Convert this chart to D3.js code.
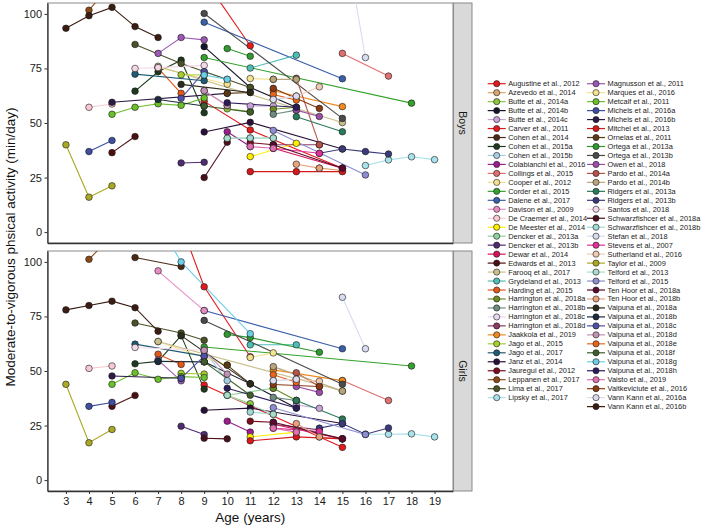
<!DOCTYPE html>
<html><head><meta charset="utf-8">
<script src="https://cdn.jsdelivr.net/npm/d3@7"></script>
<style>body{margin:0;background:#fff}svg{display:block;font-family:"Liberation Sans",Arial,sans-serif}</style>
</head><body><svg id="c" width="709" height="529"></svg>
<script>
const studies = ["Augustine et al., 2012","Azevedo et al.,  2014","Butte et al., 2014a","Butte et al., 2014b","Butte et al., 2014c","Carver et al., 2011","Cohen et al., 2014","Cohen et al., 2015a","Cohen et al., 2015b","Colabianchi et al., 2016","Collings et al., 2015","Cooper et al., 2012","Corder et al., 2015","Dalene et al., 2017","Davison et al., 2009","De Craemer et al., 2014","De Meester et al., 2014","Dencker et al., 2013a","Dencker et al., 2013b","Dewar et al., 2014","Edwards et al., 2013","Farooq et al., 2017","Grydeland et al., 2013","Harding et al., 2015","Harrington et al., 2018a","Harrington et al., 2018b","Harrington et al., 2018c","Harrington et al., 2018d","Jaakkola et al., 2019","Jago et al., 2015","Jago et al., 2017","Janz et al., 2014","Jauregui et al., 2012","Leppanen et al., 2017","Lima et al., 2017","Lipsky et al., 2017",
"Magnusson et al., 2011","Marques et al., 2016","Metcalf et al., 2011","Michels et al., 2016a","Michels et al., 2016b","Mitchel et al., 2013","Ornelas et al., 2011","Ortega et al., 2013a","Ortega et al., 2013b","Owen et al., 2018","Pardo et al., 2014a","Pardo et al., 2014b","Ridgers et al., 2013a","Ridgers et al., 2013b","Santos et al., 2018","Schwarzfishcer et al., 2018a","Schwarzfishcer et al., 2018b","Stefan et al., 2018","Stevens et al., 2007","Sutherland et al., 2016","Taylor et al., 2009","Telford et al., 2013","Telford et al., 2015","Ten Hoor et al., 2018a","Ten Hoor et al., 2018b","Vaipuna et al., 2018a","Vaipuna et al., 2018b","Vaipuna et al., 2018c","Vaipuna et al., 2018d","Vaipuna et al., 2018e","Vaipuna et al., 2018f","Vaipuna et al., 2018g","Vaipuna et al., 2018h","Vaisto et al., 2019","Vaitkeviciute  et al., 2016","Vann Kann et al., 2016a","Vann Kann et al., 2016b"];

const palette = ["#e41a1c","#d9a56f","#8cc63f","#15152b","#c8a2d8","#e31a1c","#4a2a16","#1e3a1e","#a6cee3","#9b1d8e","#e07070","#f5e08b","#34a12d","#3a5faa","#e88cc4","#f9c9d3","#ffee00","#8fd19b","#4d2c70","#d4145a","#4c1012","#c9c08c","#4dbfb4","#e2581b","#6b8b23","#6f8c80","#e8d8f0","#8b3a62","#f08a1f","#a4cf2d","#1f5c74","#2a1038","#7a0c1e","#8b4b16","#4b5226","#a8e2ea",
"#9b58b5","#f3e38e","#6abf2a","#3f4fa0","#2d1b45","#d7191c","#5a3a14","#2f9a2f","#4b4b4b","#9b4fa8","#b5554a","#b9a57a","#2a7a5c","#3b3b7c","#f5d8e6","#4a0f1c","#a0dad2","#d7dcf0","#e0339a","#f2cab2","#aaa824","#a9dccb","#8d8dd2","#5a0a2a","#e9a27c","#2b2b1b","#1c2c3c","#5050a8","#c193b3","#e8661a","#3f5f2a","#6ccfe6","#2b1b5a","#e070b0","#8b3b12","#dcdcee","#3b1c12"];

const boys = [
[[9,59.9],[11,46.8],[15,29.3]],
[[14,29.3],[15,28.2]],
[[10,56.5],[11,55.2]],
[[9,85],[11,66.3],[13,57.2]],
[[11,57.8],[12,57.8]],
[[9,116],[11,85.4]],
[[6,121],[8,116]],
[[6,64.6],[7,73.5],[8,78.8],[9,54.7]],
[[9,73.5],[10,70]],
[[10,46],[11,39.2]],
[[15,81.9],[17,71.5]],
[[7,75.5],[10,67.8]],
[[9,80],[18,59.1]],
[[9,96.2],[15,70.3]],
[[9,64.8],[10,58]],
[[4,57.2],[5,58.7]],
[[11,34.6],[13,40.7]],
[[10,43],[11,43.1]],
[[8,31.7],[9,32]],
[[12,38.4],[15,29.3]],
[[5,36.4],[6,43.8]],
[[7,76],[15,50.2]],
[[11,75.2],[13,81.1]],
[[7,75.2],[8,63.6]],
[[12,56.3],[13,57.2]],
[[12,54],[13,55.9]],
[[12,60.8],[13,62.3]],
[[12,40],[14,40]],
[[12,64.8],[15,57.5]],
[[8,72.1],[9,72]],
[[6,72.4],[9,69.4]],
[[9,45.9],[11,50.3],[15,38.1]],
[[11,41],[12,40]],
[[4,101.7],[5,114]],
[[6,86],[8,77.3],[11,66.3]],
[[16,30.5],[17,33.1],[18,34.5],[19,33.2]],
[[7,81.9],[8,89.2],[9,88.1]],
[[11,70.4],[12,70]],
[[5,54],[6,57.2],[7,58.8],[8,58.1],[9,61.5]],
[[4,36.9],[5,42]],
[[5,59.5],[10,63.6]],
[[11,27.7],[13,27.7],[15,27.7]],
[[10,63.6],[11,64]],
[[10,84.1],[11,80.6]],
[[9,100.2],[15,52.1]],
[[13,55.9],[14,53]],
[[13,70.5],[14,40]],
[[12,70],[13,70]],
[[13,52.9],[15,46]],
[[14,36.1],[15,38.1],[16,36.9],[17,35.8]],
[[6,75],[7,75.4],[9,76.4]],
[[9,25],[10,41.2]],
[[11,43.1],[12,43.1]],
[[15,141],[16,80]],
[[12,38.4],[14,36.1]],
[[13,62.3],[14,66.6]],
[[3,40],[4,16],[5,21.2]],
[[10,43],[12,43.1]],
[[12,46.6],[16,26.2]],
[[12,40],[15,29.3]],
[[13,31.1],[14,29.3]],
[[8,67.7],[11,64]],
[[7,60.8],[9,57.8]],
[[8,61.3],[9,73.5]],
[[9,64.8],[10,58]],
[[12,63.1],[13,60.5]],
[[9,57.8],[11,55]],
[[9,72],[10,70]],
[[10,59.3],[13,57.2]],
[[11,39.2],[12,38.4]],
[[12,65.9],[14,56.7]],
[[12,60.8],[13,62.3]],
[[3,93.4],[4,99.2],[5,103],[6,94.2],[7,89.2]]
];

const girls = [
[[9,43.6],[15,15]],
[[14,19.8],[15,18.9]],
[[10,38.9],[11,35]],
[[9,54.2],[11,44.1],[13,33]],
[[13,34.4],[14,32.9]],
[[8,117],[9,88.6],[11,56.5]],
[[6,102],[8,97.9]],
[[6,53.3],[7,54.4],[8,66.2],[9,41.7]],
[[9,59.2],[10,45.6]],
[[10,27],[11,22]],
[[15,45.6],[17,36.5]],
[[7,63.5],[10,52.7]],
[[9,61],[18,52.3]],
[[9,77.7],[15,60.2]],
[[7,95.9],[9,77.7]],
[[4,51.2],[5,52.3]],
[[11,19.8],[13,22]],
[[10,38.9],[12,42.1]],
[[8,24.7],[9,20.9]],
[[12,25.6],[15,18.9]],
[[5,33.8],[6,38.8]],
[[7,63.5],[15,40.8]],
[[11,62],[13,62]],
[[7,57.7],[8,53]],
[[12,42.1],[13,36.5]],
[[12,37.9],[13,36.5]],
[[12,45.6],[13,46.2]],
[[12,25.6],[14,23]],
[[12,50.5],[15,45.6]],
[[8,48.9],[9,48.6]],
[[6,62.3],[9,56.8]],
[[9,32],[11,33],[15,25.9]],
[[11,27],[12,26.5]],
[[4,101.2],[5,112]],
[[6,72],[8,67.4],[9,64.1]],
[[16,21],[17,21],[18,21.2],[19,19.8]],
[[7,55],[8,45.5]],
[[11,56.2],[12,58.3]],
[[5,43.9],[6,49.2],[7,46.2],[8,47.4],[9,47]],
[[4,33.8],[5,35.6]],
[[5,47.7],[8,46.7]],
[[11,18],[13,19.8],[15,18.9]],
[[10,52.7],[11,44.1]],
[[10,66.8],[11,65.3],[14,58.6]],
[[9,73.2],[15,43.9]],
[[13,42.9],[14,40.2]],
[[13,49.2],[14,42.9]],
[[12,52],[15,40.8]],
[[13,36.5],[15,28]],
[[14,23.8],[15,25.9],[16,21],[17,23.9]],
[[6,60.8],[9,59.5]],
[[9,19.2],[10,18.9]],
[[11,31.2],[12,30.2]],
[[15,83.8],[16,60.2]],
[[12,23.8],[14,22.3]],
[[13,46.2],[14,45.3]],
[[3,43.9],[4,17.1],[5,23.2]],
[[10,38.9],[12,30.2]],
[[12,33.2],[16,20.9]],
[[12,26.5],[15,18.9]],
[[13,25.9],[14,19.8]],
[[8,66.2],[11,44.1]],
[[7,54.4],[9,54.2]],
[[8,46.7],[9,56.8]],
[[9,59.5],[10,48.6]],
[[12,48.3],[13,44.8]],
[[9,54.2],[11,38.9]],
[[7,118],[8,100],[11,67.1]],
[[10,42.1],[13,33]],
[[12,23.8],[13,22]],
[[12,43.8],[14,42.9]],
[[12,45.6],[13,46.2]],
[[3,78],[4,80],[5,82],[6,79],[7,68.2]]
];

const xTicks = [3,4,5,6,7,8,9,10,11,12,13,14,15,16,17,18,19];
const yTicks = [0,25,50,75,100];
const facets = ["Boys","Girls"];
const panelData = [boys, girls];

const svg = d3.select("#c");
svg.append("rect").attr("width",709).attr("height",529).attr("fill","#fff");

const L = 47.5, R = 453, PH = 240, tops = [3, 251];
const x = d3.scaleLinear().domain([2.2, 19.8]).range([L, R]);

facets.forEach((f, pi) => {
  const top = tops[pi];
  const y = d3.scaleLinear().domain([-5, 105]).range([top + PH, top]);
  const g = svg.append("g");
  const cid = "clip" + pi;
  svg.append("clipPath").attr("id", cid).append("rect")
    .attr("x", L).attr("y", top).attr("width", R - L).attr("height", PH);
  g.append("rect").attr("x", L).attr("y", top).attr("width", R - L).attr("height", PH)
    .attr("fill", "#fff").attr("stroke", "#8a8a8a").attr("stroke-width", 1);
  const plot = g.append("g").attr("clip-path", `url(#${cid})`);
  const line = d3.line().x(d => x(d[0])).y(d => y(d[1]));
  const data = panelData[pi];
  data.forEach((s, i) => {
    if (s.length > 1) plot.append("path").attr("d", line(s)).attr("fill", "none")
      .attr("stroke", palette[i]).attr("stroke-width", 1.1);
  });
  data.forEach((s, i) => {
    plot.selectAll(null).data(s).enter().append("circle")
      .attr("cx", d => x(d[0])).attr("cy", d => y(d[1])).attr("r", 3.3)
      .attr("fill", palette[i]).attr("stroke", "#1a1a1a").attr("stroke-width", 0.6);
  });
  const ya = g.append("g").attr("transform", `translate(${L},0)`)
    .call(d3.axisLeft(y).tickValues(yTicks).tickSize(3).tickSizeOuter(0).tickPadding(2.5));
  ya.select(".domain").attr("stroke", "#333").attr("stroke-width", 1.3);
  ya.selectAll(".tick line").attr("stroke", "#333");
  ya.selectAll("text").attr("font-size", 11).attr("fill", "#1a1a1a").attr("font-family", "Liberation Sans, Arial, sans-serif");
  const xa = g.append("g").attr("transform", `translate(0,${top + PH})`)
    .call(d3.axisBottom(x).tickValues(xTicks).tickSize(pi === 1 ? 3 : 0).tickSizeOuter(0).tickPadding(3));
  xa.select(".domain").attr("stroke", "#333").attr("stroke-width", 1.3);
  xa.selectAll(".tick line").attr("stroke", "#333");
  xa.selectAll("text").attr("font-size", 11).attr("fill", "#1a1a1a").attr("font-family", "Liberation Sans, Arial, sans-serif");
  if (pi === 0) xa.selectAll("text").remove();
  g.append("rect").attr("x", R + 0.5).attr("y", top).attr("width", 18.5).attr("height", PH)
    .attr("fill", "#d9d9d9").attr("stroke", "#8a8a8a").attr("stroke-width", 1);
  g.append("text").attr("transform", `translate(${R + 9.75},${top + PH / 2}) rotate(90)`)
    .attr("text-anchor", "middle").attr("dominant-baseline", "central")
    .attr("font-size", 10.5).attr("fill", "#1a1a1a").text(f);
});

svg.append("text").attr("x", (L + R) / 2).attr("y", 522).attr("text-anchor", "middle")
  .attr("font-size", 13.5).attr("fill", "#111").text("Age (years)");
svg.append("text").attr("transform", `translate(15,${(tops[0] + tops[1] + PH) / 2}) rotate(-90)`)
  .attr("text-anchor", "middle").attr("font-size", 13.5).attr("fill", "#111")
  .text("Moderate-to-vigorous phsical activity (min/day)");

const leg = svg.append("g");
const perCol = 36;
studies.forEach((name, i) => {
  const col = i < perCol ? 0 : 1;
  const row = col === 0 ? i : i - perCol;
  const cx = col === 0 ? 496.7 : 596;
  const cy = 83.7 + row * 8.97;
  const it = leg.append("g");
  it.append("line").attr("x1", cx - 9).attr("x2", cx + 9).attr("y1", cy).attr("y2", cy)
    .attr("stroke", palette[i]).attr("stroke-width", 1.2);
  it.append("circle").attr("cx", cx).attr("cy", cy).attr("r", 3.1)
    .attr("fill", palette[i]).attr("stroke", "#1a1a1a").attr("stroke-width", 0.6);
  it.append("text").attr("x", cx + 11.5).attr("y", cy).attr("dominant-baseline", "central")
    .attr("font-size", 7.4).attr("fill", "#1a1a1a").text(name);
});
</script></body></html>
